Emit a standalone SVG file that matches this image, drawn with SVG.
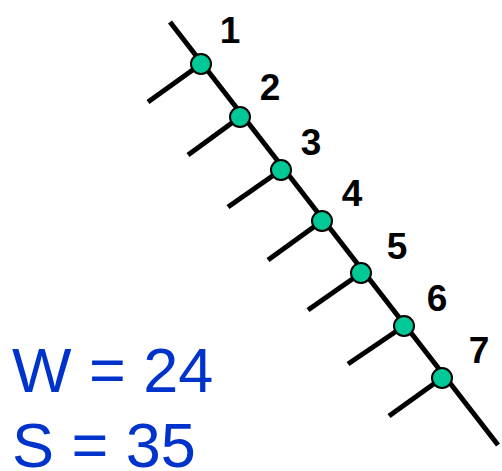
<svg xmlns="http://www.w3.org/2000/svg" width="502" height="471" viewBox="0 0 502 471">
<style>
.ln{stroke:#000;stroke-width:5;fill:none}
.nd{fill:#00C896;stroke:#000;stroke-width:2}
.lb{font-family:"Liberation Sans",Arial,sans-serif;font-weight:bold;font-size:37px;fill:#000;text-anchor:middle}
.eq{font-family:"Liberation Sans",Arial,sans-serif;font-size:63px;fill:#0033CC}
</style>
<rect width="502" height="471" fill="#fff"/>
<g id="connectors">
<line class="ln" x1="170" y1="22" x2="498" y2="445"/>
<line class="ln" x1="201" y1="64" x2="148" y2="102"/>
<line class="ln" x1="240" y1="117" x2="188" y2="155"/>
<line class="ln" x1="281" y1="170" x2="228" y2="207"/>
<line class="ln" x1="322" y1="221" x2="268" y2="260"/>
<line class="ln" x1="361" y1="273" x2="308" y2="310"/>
<line class="ln" x1="404" y1="326" x2="348" y2="364"/>
<line class="ln" x1="442" y1="378" x2="389" y2="416"/>
</g>
<g id="n1"><circle class="nd" cx="201" cy="64" r="10"/><text class="lb" x="230" y="43">1</text></g>
<g id="n2"><circle class="nd" cx="240" cy="117" r="10"/><text class="lb" x="270" y="100">2</text></g>
<g id="n3"><circle class="nd" cx="281" cy="170" r="10"/><text class="lb" x="311" y="155">3</text></g>
<g id="n4"><circle class="nd" cx="322" cy="221" r="10"/><text class="lb" x="352" y="206">4</text></g>
<g id="n5"><circle class="nd" cx="361" cy="273" r="10"/><text class="lb" x="397" y="259">5</text></g>
<g id="n6"><circle class="nd" cx="404" cy="326" r="10"/><text class="lb" x="437" y="311">6</text></g>
<g id="n7"><circle class="nd" cx="442" cy="378" r="10"/><text class="lb" x="479" y="363">7</text></g>
<g id="stats">
<text class="eq" x="12" y="392">W = 24</text>
<text class="eq" x="12" y="467">S = 35</text>
</g>
</svg>
